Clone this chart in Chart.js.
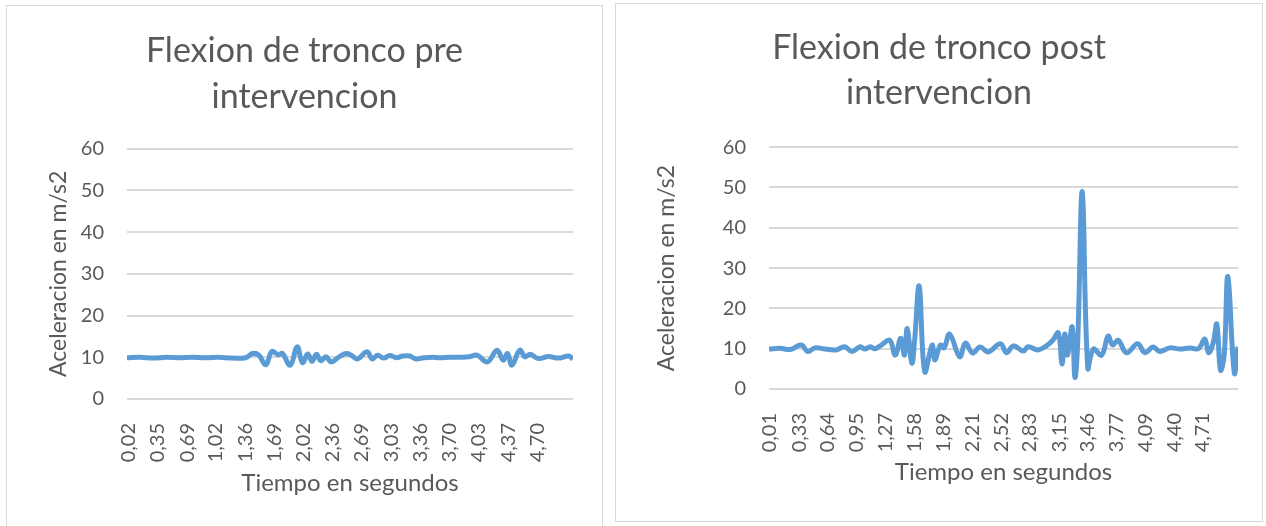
<!DOCTYPE html>
<html lang="es">
<head>
<meta charset="UTF-8">
<title>Flexion de tronco</title>
<script src="https://cdn.jsdelivr.net/npm/chart.js"></script>
<style>
	body { margin: 0; background: #fff; }
	.box { position: absolute; box-sizing: border-box; border: 1px solid #d9d9d9; }
	canvas { position: absolute; }
</style>
</head>
<body>
	<div class="box" style="left:6px; top:5px; width:597px; height:540px;"></div>
	<div class="box" style="left:615px; top:3px; width:648px; height:519px;"></div>
	<canvas id="pre" width="595" height="520" style="left:7px; top:6px;"></canvas>
	<canvas id="post" width="646" height="517" style="left:616px; top:4px;"></canvas>

<script>
// tiempo (s) y aceleracion (m/s2)
const preTiempo = [0.00, 0.15, 0.30, 0.45, 0.60, 0.75, 0.90, 1.05, 1.20, 1.36, 1.44, 1.51, 1.59, 1.66, 1.73, 1.78, 1.87, 1.95, 2.01, 2.07, 2.12, 2.17, 2.22, 2.28, 2.34, 2.43, 2.51, 2.57, 2.64, 2.75, 2.81, 2.87, 2.94, 3.01, 3.09, 3.16, 3.24, 3.31, 3.40, 3.50, 3.58, 3.70, 3.81, 3.92, 4.01, 4.13, 4.24, 4.31, 4.36, 4.41, 4.50, 4.56, 4.62, 4.71, 4.83, 4.94, 5.06, 5.11];
const preAceleracion = [9.9, 10.0, 9.8, 10.0, 9.9, 10.0, 9.9, 10.0, 9.8, 9.9, 10.9, 10.5, 8.2, 11.4, 10.6, 10.9, 8.1, 12.5, 8.7, 10.8, 9.0, 10.7, 9.2, 10.1, 8.9, 10.1, 10.9, 10.5, 9.6, 11.3, 9.6, 10.5, 9.8, 10.4, 9.9, 10.3, 10.3, 9.6, 9.9, 10.0, 9.9, 10.0, 10.0, 10.1, 10.5, 8.9, 11.7, 9.3, 10.9, 8.1, 11.7, 10.1, 10.7, 9.7, 10.2, 9.8, 10.3, 9.6];

const postTiempo = [0.00, 0.12, 0.23, 0.35, 0.42, 0.50, 0.61, 0.73, 0.82, 0.90, 0.99, 1.04, 1.10, 1.15, 1.22, 1.31, 1.37, 1.43, 1.47, 1.50, 1.55, 1.58, 1.63, 1.69, 1.77, 1.80, 1.86, 1.90, 1.96, 2.07, 2.13, 2.21, 2.29, 2.38, 2.51, 2.58, 2.65, 2.76, 2.81, 2.92, 3.01, 3.08, 3.14, 3.18, 3.21, 3.24, 3.29, 3.32, 3.35, 3.40, 3.46, 3.52, 3.61, 3.68, 3.73, 3.79, 3.88, 4.00, 4.08, 4.17, 4.24, 4.35, 4.46, 4.57, 4.66, 4.73, 4.77, 4.82, 4.86, 4.90, 4.94, 4.98, 5.05, 5.09];
const postAceleracion = [9.9, 10.1, 9.8, 10.9, 9.3, 10.2, 9.9, 9.7, 10.5, 9.3, 10.5, 9.9, 10.5, 10.0, 10.9, 12.1, 8.4, 12.6, 8.4, 15.0, 6.4, 12.0, 25.5, 4.3, 10.9, 7.2, 10.9, 10.2, 13.6, 8.0, 11.4, 8.9, 10.4, 9.2, 11.2, 9.0, 10.7, 9.4, 10.5, 9.7, 10.7, 12.1, 13.9, 6.2, 13.6, 8.4, 15.4, 2.9, 11.4, 48.9, 5.2, 9.9, 8.4, 13.1, 10.9, 12.1, 9.0, 11.2, 9.0, 10.4, 9.3, 10.2, 9.9, 10.2, 10.0, 12.4, 9.0, 11.4, 16.1, 4.7, 8.4, 27.9, 4.0, 10.5];

const preTicks = [0.02, 0.35, 0.69, 1.02, 1.36, 1.69, 2.02, 2.36, 2.69, 3.03, 3.36, 3.70, 4.03, 4.37, 4.70];
const postTicks = [0.01, 0.33, 0.64, 0.95, 1.27, 1.58, 1.89, 2.21, 2.52, 2.83, 3.15, 3.46, 3.77, 4.09, 4.40, 4.71];
const yTicks = [0, 10, 20, 30, 40, 50, 60];

Chart.defaults.font.family = 'Lato, "Open Sans", sans-serif';
Chart.defaults.color = '#595959';

function makeChart(id, title, tiempo, valores, ticks, xMax, lay) {
	const points = tiempo.map((t, i) => ({ x: t, y: valores[i] }));
	return new Chart(document.getElementById(id), {
		type: 'line',
		data: {
			datasets: [{
				data: points,
				borderColor: '#5b9bd5',
				borderWidth: 5,
				pointRadius: 0,
				tension: 0.4,
				fill: false
			}]
		},
		options: {
			responsive: false,
			animation: false,
			layout: { padding: 0 },
			plugins: {
				legend: { display: false },
				tooltip: { enabled: false },
				title: {
					display: true,
					text: title,
					color: '#595959',
					font: { size: 34, weight: 'normal', lineHeight: 1.34 },
					padding: { top: lay.titleTop, bottom: lay.titleBottom }
				}
			},
			scales: {
				x: {
					type: 'linear',
					bounds: 'data',
					min: 0,
					max: xMax,
					grid: { display: false },
					border: { display: false },
					afterBuildTicks: s => { s.ticks = ticks.map(v => ({ value: v })); },
					afterFit: s => { s.height = lay.xHeight; },
					ticks: {
						autoSkip: false,
						maxRotation: 90,
						minRotation: 90,
						padding: 16,
						font: { size: 20 },
						callback: v => v.toFixed(2).replace('.', ',')
					},
					title: {
						display: true,
						text: 'Tiempo en segundos',
						font: { size: 24 },
						padding: { top: 0, bottom: lay.xTitleBottom }
					}
				},
				y: {
					min: 0,
					max: 60,
					grid: { color: '#d9d9d9', lineWidth: 2, drawTicks: false },
					border: { display: false },
					afterBuildTicks: s => { s.ticks = yTicks.map(v => ({ value: v })); },
					afterFit: s => { s.width = lay.yWidth; },
					ticks: { padding: 23, font: { size: 20 } },
					title: {
						display: true,
						text: 'Aceleracion en m/s2',
						font: { size: 23 },
						padding: { top: lay.yTitleTop, bottom: 0 }
					}
				},
				// empty right margin so the title stays centred on the whole box
				margen: {
					position: 'right',
					grid: { display: false },
					border: { display: false },
					ticks: { display: false },
					afterFit: s => { s.width = lay.right; }
				}
			}
		}
	});
}

makeChart('pre', ['Flexion de tronco pre', 'intervencion'], preTiempo, preAceleracion, preTicks, 5.11,
	{ right: 29, titleTop: 22.75, titleBottom: 28.75, xHeight: 127, xTitleBottom: 28.6, yWidth: 120, yTitleTop: 37.5 });
makeChart('post', ['Flexion de tronco post', 'intervencion'], postTiempo, postAceleracion, postTicks, 5.09,
	{ right: 24, titleTop: 21, titleBottom: 31, xHeight: 132, xTitleBottom: 34.6, yWidth: 153, yTitleTop: 37.2 });
</script>
</body>
</html>
